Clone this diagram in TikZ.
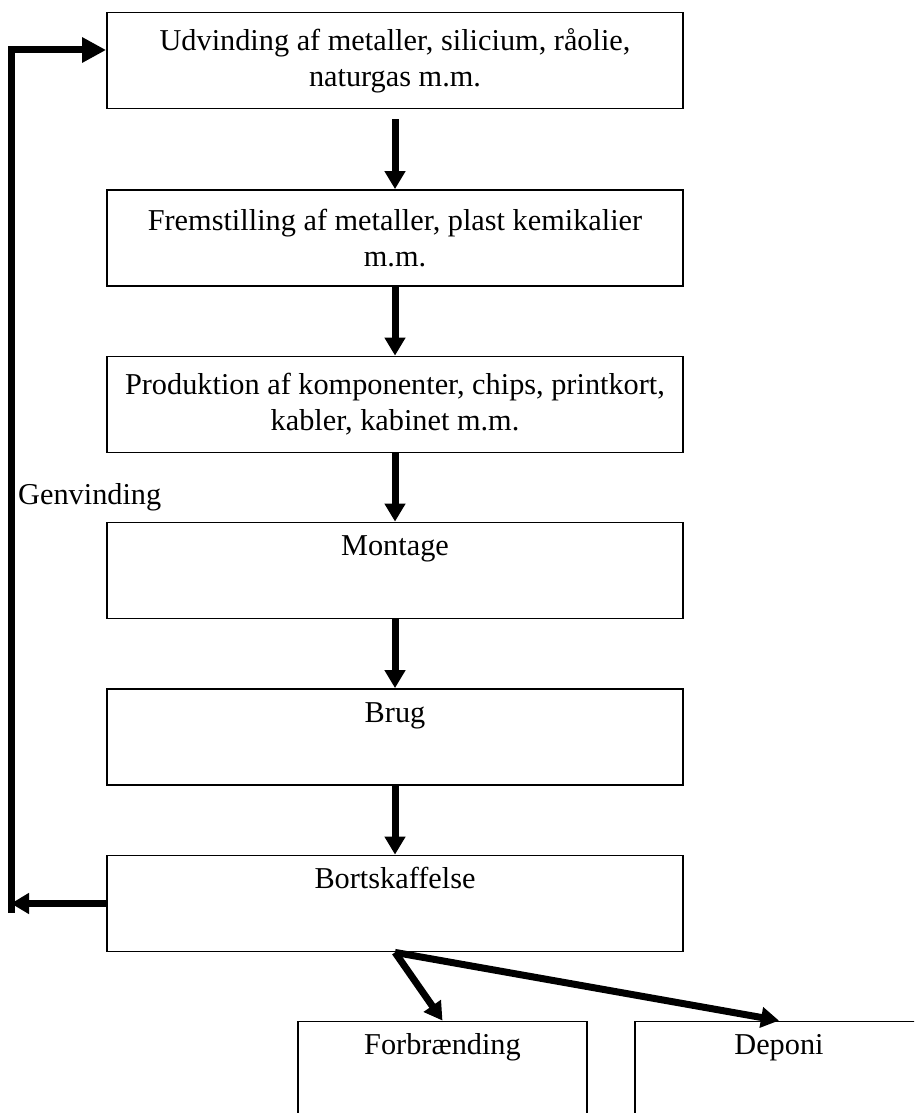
\documentclass[tikz,border=0pt]{standalone}
\usepackage{fontspec}
\setmainfont{Liberation Serif}
\usetikzlibrary{arrows.meta}
\def\Udvinding{Udvinding af metaller, silicium, råolie,\\ naturgas m.m.}
\def\Fremstilling{Fremstilling af metaller, plast kemikalier\\ m.m.}
\def\Produktion{Produktion af komponenter, chips, printkort,\\ kabler, kabinet m.m.}
\def\Montage{Montage}
\def\Brug{Brug}
\def\Bortskaffelse{Bortskaffelse}
\def\Forbraending{Forbrænding}
\def\Deponi{Deponi}
\def\Genvinding{Genvinding}

\begin{document}
\begin{tikzpicture}[x=1pt, y=-1pt,
    stage/.style={draw, line width=1.8pt, minimum width=576pt, minimum height=96pt,
        inner sep=0pt, align=center, font=\fontsize{30.3}{36}\selectfont},
    single/.style={stage, text height=33pt, text depth=63pt},
    flow/.style={line width=7pt, line join=miter, -{Triangle[length=18pt, width=20pt]}}]

    \useasboundingbox (0,0) rectangle (914,1113);
    \clip (0,0) rectangle (914,1113);

    \node[stage] (udv) at (395, 60.5) {\Udvinding};
    \node[stage] (frem) at (395, 238) {\Fremstilling};
    \node[stage] (prod) at (395, 404.5) {\Produktion};
    \node[single] (mont) at (395, 570.5) {\Montage};
    \node[single] (brug) at (395, 737) {\Brug};
    \node[single] (bort) at (395, 903.5) {\Bortskaffelse};
    \node[single, minimum width=289pt] (forb) at (442.5, 1069.5) {\Forbraending};
    \node[single, minimum width=288pt] (dep) at (779, 1069.5) {\Deponi};

    \node[anchor=base west, inner sep=0pt, font=\fontsize{30.3}{36}\selectfont]
        (gen) at (18, 504) {\Genvinding};

    \draw[flow] ([yshift=-10pt]udv.south) -- (frem.north);
    \foreach \a/\b in {frem/prod, prod/mont, mont/brug, brug/bort}
        \draw[flow] (\a.south) -- (\b.north);

    % genvinding back to the top
    \coordinate (turn) at (11, 903.5);
    \draw[flow] (bort.west) -- (turn);
    \draw[flow, -{Triangle[length=24pt, width=24pt]}]
        ([yshift=-9pt]turn) |- ([yshift=10.5pt]udv.west);

    \draw[flow] (bort.south) -- (forb.north);
    \draw[flow] (bort.south) -- (dep.north);
\end{tikzpicture}
\end{document}
